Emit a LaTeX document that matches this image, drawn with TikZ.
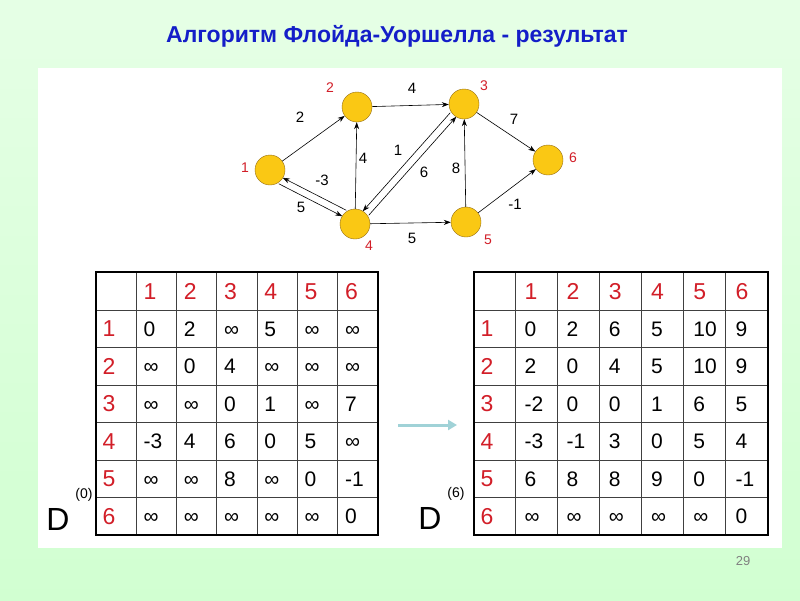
\documentclass[tikz,border=0pt]{standalone}
\usepackage{fontspec}
\setmainfont{Liberation Sans}
\usetikzlibrary{arrows.meta,calc}
\definecolor{titleblue}{RGB}{20,30,200}
\definecolor{numred}{RGB}{210,30,40}
\definecolor{nodefill}{RGB}{250,200,20}
\definecolor{nodeline}{RGB}{150,110,20}
\definecolor{arrowteal}{RGB}{160,210,215}
\tikzset{
 vert/.style={circle,draw=nodeline,fill=nodefill,minimum size=30pt,inner sep=0pt},
 vlab/.style={text=numred,font=\fontsize{14}{14}\selectfont},
 edge/.style={-{Stealth[length=7pt,width=5pt]},line width=0.6pt},
 elab/.style={font=\fontsize{15}{15}\selectfont},
 hd/.style={text=numred,font=\fontsize{23}{23}\selectfont,anchor=base west},
 cell/.style={font=\fontsize{21}{21}\selectfont,anchor=base west},
 grid/.style={line width=0.8pt,draw=black!75},
}
\begin{document}
\begin{tikzpicture}[x=1pt,y=-1pt]
\shade[top color=green!10!white,bottom color=green!18!white] (0,0) rectangle (800,600);
\useasboundingbox (0,0) rectangle (800,600);
\fill[white] (38,68) rectangle (782,548);
\node[text=titleblue,font=\bfseries\fontsize{23}{23}\selectfont] (title) at (397,36) {Алгоритм Флойда-Уоршелла - результат};
\node[text=gray,font=\fontsize{13}{13}\selectfont] (pg) at (743,561) {29};
% graph
\node[vert] (n1) at (270,170) {};
\node[vert] (n2) at (357,107) {};
\node[vert] (n3) at (464,104) {};
\node[vert] (n4) at (355,224) {};
\node[vert] (n5) at (466,222) {};
\node[vert] (n6) at (548,160) {};
\node[vlab] (l1) at (245,168) {1};
\node[vlab] (l2) at (330,88) {2};
\node[vlab] (l3) at (484,86) {3};
\node[vlab] (l4) at (369,246) {4};
\node[vlab] (l5) at (488,240) {5};
\node[vlab] (l6) at (573,158) {6};
\draw[edge] (n1) -- (n2);
\draw[edge] (n2) -- (n3);
\draw[edge] (n3) -- (n6);
\draw[edge] (n4) -- (n2);
\draw[edge] (n5) -- (n3);
\draw[edge] (n4) -- (n5);
\draw[edge] (n5) -- (n6);
\draw[edge] ([shift={(2,-3)}]n4.north west) -- ([shift={(2,-3)}]n1.south east);
\draw[edge] ([shift={(-2,3)}]n1.south east) -- ([shift={(-2,3)}]n4.north west);
\draw[edge] ([shift={(-3,-2)}]n3.south west) -- ([shift={(-3,-2)}]n4.north east);
\draw[edge] ([shift={(3,2)}]n4.north east) -- ([shift={(3,2)}]n3.south west);
\node[elab] (e12) at (300,117) {2};
\node[elab] (e23) at (412,88) {4};
\node[elab] (e36) at (514,119) {7};
\node[elab] (e42) at (363,158) {4};
\node[elab] (e41) at (322,180) {-3};
\node[elab] (e14) at (301,207) {5};
\node[elab] (e34) at (398,150) {1};
\node[elab] (e43) at (424,172) {6};
\node[elab] (e53) at (456,168) {8};
\node[elab] (e45) at (412,238) {5};
\node[elab] (e56) at (515,204) {-1};
% left table
\foreach \x in {96,136,176,216,257,297,337,378} \draw[grid] (\x,272) -- (\x,535);
\foreach \y in {272,310,347,385,422,460,497,535} \draw[grid] (96,\y) -- (378,\y);
\draw[line width=1.6pt] (96,272) rectangle (378,535);
\foreach \i [count=\k] in {1,...,6}{
 \node[hd] at ({136+40.3*(\k-1)+4},299) {\i};
 \node[hd] at (99,{299+37.57*\k}) {\i};}
\foreach \row [count=\r] in {{0,2,∞,5,∞,∞},{∞,0,4,∞,∞,∞},{∞,∞,0,1,∞,7},{-3,4,6,0,5,∞},{∞,∞,8,∞,0,-1},{∞,∞,∞,∞,∞,0}}
 \foreach \v [count=\c] in \row
  \node[cell] at ({136+40.3*(\c-1)+4},{298.5+37.57*\r}) {\v};
% right table
\foreach \x in {474,515,557,599,641,683,725,768} \draw[grid] (\x,272) -- (\x,535);
\foreach \y in {272,310,347,385,422,460,497,535} \draw[grid] (474,\y) -- (768,\y);
\draw[line width=1.6pt] (474,272) rectangle (768,535);
\foreach \i [count=\k] in {1,...,6}{
 \node[hd] at ({515+42.2*(\k-1)+6},299) {\i};
 \node[hd] at (477,{299+37.57*\k}) {\i};}
\foreach \row [count=\r] in {{0,2,6,5,10,9},{2,0,4,5,10,9},{-2,0,0,1,6,5},{-3,-1,3,0,5,4},{6,8,8,9,0,-1},{∞,∞,∞,∞,∞,0}}
 \foreach \v [count=\c] in \row
  \node[cell] at ({515+42.2*(\c-1)+6},{298.5+37.57*\r}) {\v};
% D labels
\node[font=\fontsize{32}{32}\selectfont] (d0) at (58,519) {D};
\node[font=\fontsize{14}{14}\selectfont] (s0) at (84,495) {(0)};
\node[font=\fontsize{32}{32}\selectfont] (d6) at (430,518) {D};
\node[font=\fontsize{14}{14}\selectfont] (s6) at (456,494) {(6)};
\coordinate (aS) at (398,425);
\coordinate (aE) at (457,425);
\draw[line width=3pt,arrowteal,-{Triangle[length=9pt,width=10pt]}] (aS) -- (aE);
\end{tikzpicture}
\end{document}
